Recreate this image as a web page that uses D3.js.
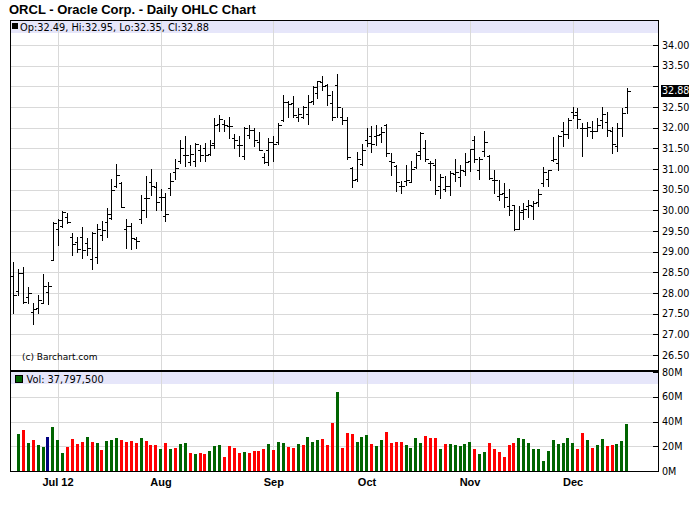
<!DOCTYPE html>
<html><head><meta charset="utf-8">
<script src="https://cdn.jsdelivr.net/npm/d3@7/dist/d3.min.js"></script>
<style>body{margin:0;background:#fff}svg{display:block}</style>
</head><body>
<svg id="c" width="700" height="512"></svg>
<script>
// ---- data (index 0 = first trading day shown, ~Jun 19 2012) ----
const open = [28.40,28.05,28.49,27.91,27.53,27.63,27.75,28.02,28.79,
29.55,29.62,29.83,29.36,29.23,29.35,29.20,28.82,28.86,29.41,
29.72,29.82,30.60,30.65,29.55,29.62,29.31,29.78,30.30,30.69,
30.57,30.33,29.87,30.54,30.93,31.20,31.35,31.17,31.20,31.47,
31.51,31.36,31.63,32.09,32.10,32.03,31.75,31.59,31.31,31.83,
31.95,31.65,31.28,31.47,31.65,31.65,32.19,32.62,32.60,32.25,
32.25,32.33,32.64,32.84,33.10,33.04,32.60,33.04,32.27,32.19,
31.02,30.77,31.12,31.71,31.79,31.81,31.85,32.06,31.20,31.08,
30.60,30.72,30.69,31.04,31.43,31.52,31.15,31.09,30.58,30.52,
30.58,30.88,30.80,30.94,31.20,31.70,30.97,31.44,31.32,30.74,
30.35,30.42,30.10,30.14,29.56,30.00,30.11,30.10,30.19,30.66,
30.76,31.21,31.15,31.93,31.85,32.37,32.37,31.99,31.99,31.93,
31.93,32.19,32.13,31.93,31.55,31.99,32.49];
const high = [28.75,28.58,28.63,28.15,27.76,27.95,28.46,28.27,29.72,
29.79,29.98,29.94,29.46,29.36,29.59,29.33,29.48,29.67,29.74,
30.05,30.75,31.12,30.69,29.79,29.69,29.36,30.37,30.83,30.99,
30.69,30.51,30.42,30.90,31.25,31.71,31.81,31.57,31.63,31.57,
31.63,31.71,32.23,32.31,32.19,32.27,31.85,31.79,32.01,32.07,
31.98,31.90,31.39,31.75,31.81,32.11,32.80,32.65,32.76,32.48,
32.52,32.80,33.02,33.14,33.26,33.06,32.88,33.31,32.48,32.25,
31.06,31.41,31.61,31.99,32.03,32.06,32.01,32.09,31.39,31.10,
30.72,31.10,31.20,31.39,31.90,31.71,31.19,31.23,30.89,30.82,
30.96,31.23,31.10,31.39,31.49,31.81,31.29,31.93,31.34,30.98,
30.74,30.66,30.52,30.14,30.10,30.18,30.26,30.23,30.52,31.05,
30.98,31.77,31.83,32.13,32.23,32.50,32.48,32.11,32.13,32.15,
32.23,32.50,32.37,32.02,32.11,32.48,32.95];
const low = [27.52,27.95,27.75,27.77,27.24,27.51,27.75,27.73,28.79,
29.15,29.60,29.70,28.92,29.00,28.84,28.91,28.59,28.73,29.28,
29.36,29.79,30.56,30.09,29.10,29.06,29.10,29.69,29.85,30.37,
30.01,30.01,29.73,30.36,30.77,31.15,31.08,31.10,31.08,31.19,
31.20,31.35,31.52,31.91,31.93,31.75,31.51,31.31,31.24,31.75,
31.55,31.45,31.15,31.10,31.20,31.60,32.17,32.25,32.27,32.15,
32.23,32.09,32.58,32.72,32.92,32.56,32.19,32.27,32.09,31.25,
30.56,30.70,31.09,31.55,31.41,31.59,31.65,31.31,30.86,30.46,
30.42,30.62,30.69,31.02,31.24,31.20,30.74,30.40,30.30,30.46,
30.36,30.72,30.60,30.86,30.94,31.16,30.76,31.32,30.76,30.42,
30.26,30.08,29.88,29.52,29.55,29.79,29.83,29.79,30.11,30.58,
30.58,31.19,30.98,31.56,31.75,32.23,31.99,31.31,31.81,31.75,
31.91,31.99,31.81,31.39,31.43,31.79,32.35];
const close = [27.94,28.49,27.78,27.99,27.61,27.83,28.17,28.17,29.70,
29.76,29.97,29.72,29.19,29.07,29.04,29.08,29.46,29.56,29.52,
29.91,30.49,30.85,30.09,29.62,29.32,29.26,30.00,30.29,30.59,
30.19,30.33,29.91,30.72,31.02,31.51,31.35,31.36,31.60,31.35,
31.33,31.57,32.06,32.22,32.06,32.03,31.71,31.59,31.98,31.95,
31.71,31.47,31.17,31.65,31.60,32.07,32.62,32.58,32.31,32.33,
32.49,32.61,32.98,33.12,33.02,32.80,32.27,32.49,32.19,31.28,
30.74,31.23,31.47,31.63,31.60,31.83,31.90,31.39,31.17,30.68,
30.60,30.74,31.01,31.35,31.87,31.23,31.15,30.50,30.80,30.60,
30.90,30.92,30.98,31.17,31.48,31.23,31.24,31.65,30.78,30.74,
30.40,30.32,30.00,29.55,29.95,30.03,30.14,30.17,30.40,30.92,
30.98,31.23,31.81,31.85,32.19,32.31,32.21,31.99,32.01,31.93,
32.07,32.34,31.95,31.61,31.99,32.35,32.88];
// volume in millions (null = no bar shown)
const volume = [null,29.8,33.0,22.6,25.0,20.9,19.3,27.4,35.4,
25.0,14.5,19.3,25.8,21.7,23.4,27.4,23.4,22.6,16.9,
24.2,25.0,26.6,25.0,23.4,24.2,22.6,26.6,24.2,20.9,
20.9,17.7,22.6,17.7,18.5,21.7,22.6,14.5,13.7,14.5,
13.7,16.1,20.1,20.9,11.3,20.1,18.5,14.5,15.3,14.5,
16.1,16.1,17.7,21.7,16.9,23.4,22.6,19.3,18.5,21.7,
20.9,27.4,23.4,25.0,25.8,20.9,38.7,63.6,18.5,30.6,
29.8,23.4,27.4,29.0,21.7,20.1,25.0,31.4,22.6,23.4,
23.4,20.9,18.5,26.6,22.6,28.2,26.6,26.6,17.7,21.7,
21.7,20.9,20.1,21.7,23.4,17.7,13.7,15.3,22.6,17.7,
15.3,11.3,20.9,22.6,26.6,25.8,22.6,17.7,17.7,8.1,
16.1,25.0,21.7,22.6,26.6,22.6,17.7,30.6,25.0,18.5,
20.9,25.8,20.1,20.9,21.7,24.2,37.7975];
// volume bar direction: u = up, d = down, n = unchanged
const volDir = ["-ududuunu","uuddddudud","uuuddddudd","dududuudud",
"duuuddddud","ddduduuddu","duuudddudd","duuuduuddd","duuuudddud",
"uuuuuduudd","dddduuuuuu","uuuuuuddud","uudduuu"];
// months (index of first trading day, label)
const monthIdx = [9,30,53,72,93,114];
const monthLabels = ["Jul 12","Aug","Sep","Oct","Nov","Dec"];
const priceTicks = [26.5,27,27.5,28,28.5,29,29.5,30,30.5,31,31.5,32,32.5,33,33.5,34];
const volTicks = [0,20,40,60,80];
const lastQuote = {op:32.49, hi:32.95, lo:32.35, cl:32.88, vol:"37,797,500"};
</script>
<script>
const dirs = volDir.join("").split("");
const n = close.length;
const svg = d3.select("#c");
const L = 10, R = 658, PT = 20, PB = 371, VT = 372, VB = 471;

const x = d3.scaleLinear().domain([9, n-1]).range([57.5, 626.5]);
const y = d3.scaleLinear().domain([26.5, 34]).range([355, 45]);
const yv = d3.scaleLinear().domain([0, 80]).range([VB, VT]);
const px = i => Math.round(x(i)) + 0.5;
const py = v => Math.round(y(v)) + 0.5;

// title
svg.append("text").attr("x", 9).attr("y", 14)
  .attr("font-family", "Liberation Sans, Arial, sans-serif").attr("font-weight", "bold")
  .attr("font-size", 13).attr("fill", "#000")
  .text("ORCL - Oracle Corp. - Daily OHLC Chart");

// legend bands
svg.append("rect").attr("x", L).attr("y", PT).attr("width", R-L).attr("height", 13).attr("fill", "#e6e6fa");
svg.append("rect").attr("x", L).attr("y", VT).attr("width", R-L).attr("height", 12).attr("fill", "#e6e6fa");

const grid = svg.append("g").attr("stroke", "#d9d9d9").attr("stroke-width", 1).attr("shape-rendering", "crispEdges");
grid.selectAll(".hp").data(priceTicks).join("line").attr("class","hp")
  .attr("x1", L).attr("x2", R-5).attr("y1", d => py(d)).attr("y2", d => py(d));
grid.selectAll(".hv").data(volTicks.filter(d => d>0 && d<80)).join("line")
  .attr("class","hv").attr("x1", L).attr("x2", R-5).attr("y1", d => Math.round(yv(d))+0.5).attr("y2", d => Math.round(yv(d))+0.5);
grid.selectAll(".vp").data(monthIdx).join("line").attr("class","vp")
  .attr("x1", d => px(d)).attr("x2", d => px(d)).attr("y1", PT).attr("y2", PB);
grid.selectAll(".vv").data(monthIdx).join("line").attr("class","vv")
  .attr("x1", d => px(d)).attr("x2", d => px(d)).attr("y1", VT).attr("y2", VB);

// legends
svg.append("rect").attr("x", 12).attr("y", 23).attr("width", 6).attr("height", 6).attr("fill", "#000");
svg.append("text").attr("x", 20).attr("y", 30.5)
  .attr("font-family", "DejaVu Sans, Verdana, sans-serif").attr("font-size", 9.8).attr("fill", "#000")
  .text(`Op:${lastQuote.op.toFixed(2)}, Hi:${lastQuote.hi.toFixed(2)}, Lo:${lastQuote.lo.toFixed(2)}, Cl:${lastQuote.cl.toFixed(2)}`);
svg.append("rect").attr("x", 15.5).attr("y", 375.5).attr("width", 7).attr("height", 7)
  .attr("fill", "#006400").attr("stroke", "#000").attr("stroke-width", 1);
svg.append("text").attr("x", 26.5).attr("y", 382.5)
  .attr("font-family", "DejaVu Sans, Verdana, sans-serif").attr("font-size", 9.8).attr("fill", "#000")
  .text(`Vol: ${lastQuote.vol}`);

// copyright
svg.append("text").attr("x", 22).attr("y", 360)
  .attr("font-family", "DejaVu Sans, Verdana, sans-serif").attr("font-size", 9).attr("fill", "#000")
  .text("(c) Barchart.com");

// OHLC bars
const idx = d3.range(n);
const ohlc = svg.append("g").attr("stroke", "#000").attr("stroke-width", 1).attr("shape-rendering", "crispEdges");
ohlc.selectAll(".hl").data(idx).join("line").attr("class","hl")
  .attr("x1", i => px(i)).attr("x2", i => px(i))
  .attr("y1", i => Math.round(y(high[i]))).attr("y2", i => Math.round(y(low[i]))+1);
ohlc.selectAll(".op").data(idx).join("line").attr("class","op")
  .attr("x1", i => px(i)-3).attr("x2", i => px(i))
  .attr("y1", i => py(open[i])).attr("y2", i => py(open[i]));
ohlc.selectAll(".cl").data(idx).join("line").attr("class","cl")
  .attr("x1", i => px(i)).attr("x2", i => px(i)+3)
  .attr("y1", i => py(close[i])).attr("y2", i => py(close[i]));

// volume bars
const colorOf = {u:"#006400", d:"#ff0000", n:"#000080"};
svg.append("g").attr("shape-rendering", "crispEdges")
  .selectAll("rect").data(idx.filter(i => volume[i] != null)).join("rect")
  .attr("x", i => Math.round(x(i) - 1.2)).attr("width", 3)
  .attr("y", i => Math.round(yv(volume[i]))).attr("height", i => VB - Math.round(yv(volume[i])))
  .attr("fill", i => colorOf[dirs[i]]);

// frame
const frame = svg.append("g").attr("stroke", "#000").attr("shape-rendering", "crispEdges");
frame.append("line").attr("x1", L+0.5).attr("x2", L+0.5).attr("y1", PT).attr("y2", VB+1);
frame.append("line").attr("x1", R+0.5).attr("x2", R+0.5).attr("y1", PT).attr("y2", VB+1);
frame.append("line").attr("x1", L).attr("x2", R+1).attr("y1", PT+0.5).attr("y2", PT+0.5);
frame.append("line").attr("x1", L).attr("x2", R+1).attr("y1", PB).attr("y2", PB).attr("stroke-width", 2);
frame.append("line").attr("x1", L).attr("x2", R+1).attr("y1", VB+0.5).attr("y2", VB+0.5);

// right axes (the last-price marker covers the nearby 33.00 label)
const axFont = "DejaVu Sans, Verdana, sans-serif";
const lastY = y(lastQuote.cl);
const shownPriceLabels = priceTicks.filter(d => Math.abs(y(d) - lastY) > 10);
const pAxis = d3.axisRight(y).tickValues(shownPriceLabels).tickFormat(d3.format(".2f")).tickSize(0);
const pa = svg.append("g").attr("transform", `translate(${R},0)`);
pa.selectAll(".tk").data(priceTicks).join("line").attr("class","tk")
  .attr("x1", -5).attr("x2", 0).attr("y1", d => py(d)).attr("y2", d => py(d))
  .attr("stroke", "#000").attr("shape-rendering", "crispEdges");
pa.call(pAxis).call(g => g.select(".domain").remove())
  .call(g => g.selectAll("text").attr("x", 4).attr("font-family", axFont).attr("font-size", 9.6).attr("fill", "#000"));

const vAxis = d3.axisRight(yv).tickValues(volTicks).tickFormat(d => d + "M").tickSize(0);
const va = svg.append("g").attr("transform", `translate(${R},0)`);
va.selectAll(".tk").data(volTicks).join("line").attr("class","tk")
  .attr("x1", -5).attr("x2", 0).attr("y1", d => Math.round(yv(d))+0.5).attr("y2", d => Math.round(yv(d))+0.5)
  .attr("stroke", "#000").attr("shape-rendering", "crispEdges");
va.call(vAxis).call(g => g.select(".domain").remove())
  .call(g => g.selectAll("text").attr("x", 4).attr("font-family", axFont).attr("font-size", 9.6).attr("fill", "#000"));

// last price marker
svg.append("rect").attr("x", 661).attr("y", Math.round(lastY) - 6).attr("width", 28).attr("height", 12).attr("fill", "#000");
svg.append("text").attr("x", 662).attr("y", lastY).attr("dy", "0.32em")
  .attr("font-family", axFont).attr("font-size", 9.6).attr("fill", "#fff").text(lastQuote.cl.toFixed(2));

// bottom x axis (month labels)
const xAxis = d3.axisBottom(x).tickValues(monthIdx).tickFormat((d, i) => monthLabels[i]).tickSize(0);
svg.append("g").attr("transform", `translate(0,${VB})`).call(xAxis)
  .call(g => g.select(".domain").remove())
  .call(g => g.selectAll("text").attr("y", 7).attr("font-family", "Liberation Sans, Arial, sans-serif")
    .attr("font-weight", "bold").attr("font-size", 11).attr("fill", "#000"));
</script>
</body></html>
